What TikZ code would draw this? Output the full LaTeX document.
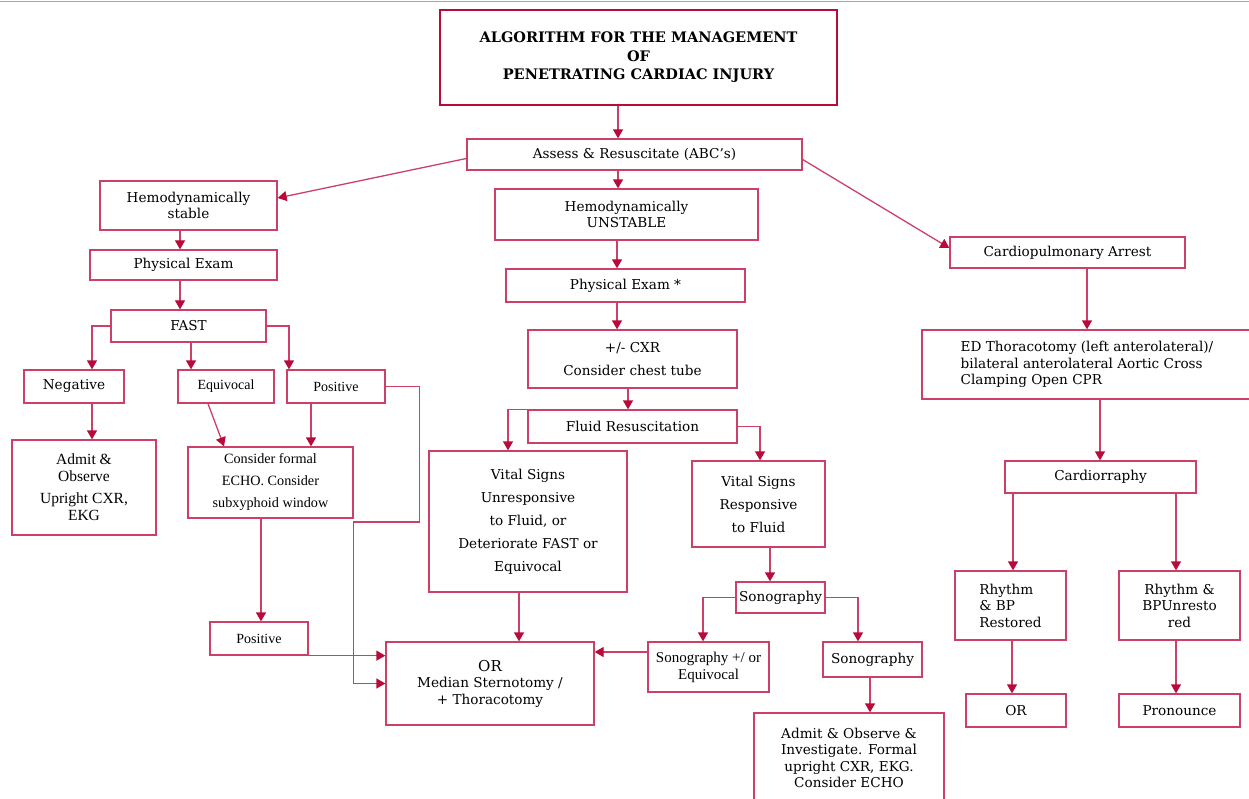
\documentclass[tikz,border=0pt]{standalone}
\usepackage{fontspec}
\setmainfont{DejaVu Serif}
\newfontfamily\timesfont{Liberation Serif}
\usetikzlibrary{arrows.meta}
\definecolor{boxred}{RGB}{204,64,104}
\definecolor{tipred}{RGB}{185,10,60}
\tikzset{
  box/.style={draw=boxred, line width=1.3pt, inner sep=0pt, align=center,
    font=\fontsize{13.6}{16.5}\selectfont},
  wh/.style 2 args={minimum width=#1pt, minimum height=#2pt},
  times/.style={font=\timesfont\fontsize{14}{17}\selectfont},
  link/.style={draw=boxred, line width=1.3pt,
    -{Triangle[length=9pt,width=10pt,color=tipred]}},
}
\begin{document}
\begin{tikzpicture}[x=1pt,y=-1pt]
    \useasboundingbox (0,0) rectangle (1249,799);
    \draw[gray!70, line width=1pt] (0,2) -- (1249,2);

    % top
    \node[box, draw=tipred, line width=2pt, wh={397}{95},
      font=\bfseries\fontsize{14.5}{18.5}\selectfont] (title) at (638.5,57.5)
      {ALGORITHM FOR THE MANAGEMENT\\OF\\PENETRATING CARDIAC INJURY};
    \node[box, wh={335}{31}] (assess) at (634.5,154.5) {Assess \& Resuscitate (ABC's)};

    % stable branch
    \node[box, wh={177}{49}] (stable) at (188.5,205.5) {Hemodynamically\\stable};
    \node[box, wh={187}{30}] (pexL) at (183.5,265) {Physical Exam};
    \node[box, wh={155}{32}] (fast) at (188.5,326) {FAST};
    \node[box, wh={100}{33}] (neg) at (74,386.5) {Negative};
    \node[box, times, wh={96}{33}] (equi) at (226,386.5) {Equivocal};
    \node[box, times, wh={98}{33}] (posL) at (336,386.5) {Positive};
    \node[box, wh={144}{95}, font=\timesfont\fontsize{15.5}{17}\selectfont] (admitL)
      at (84,487.5) {Admit \&\\Observe\\[5pt]Upright CXR,\\EKG};
    \node[box, times, wh={165}{71}, font=\timesfont\fontsize{14.2}{22}\selectfont]
      (echo) at (270.5,482.5) {Consider formal\\ECHO. Consider\\subxyphoid window};
    \node[box, times, wh={98}{33}] (posB) at (259,638.5) {Positive};
    \node[box, wh={208}{83}] (orM) at (490,683.5)
      {\fontsize{15}{18}\selectfont OR\\Median Sternotomy /\\+ Thoracotomy};

    % unstable branch
    \node[box, wh={263}{51}] (unstable) at (626.5,214.5) {Hemodynamically\\UNSTABLE};
    \node[box, wh={239}{33}] (pexM) at (625.5,285.5) {Physical Exam *};
    \node[box, wh={209}{58}, font=\fontsize{13.6}{23}\selectfont] (cxr) at (632.5,359)
      {+/- CXR\\Consider chest tube};
    \node[box, wh={209}{33}] (fluid) at (632.5,426.5) {Fluid Resuscitation};
    \node[box, wh={198}{141}, font=\fontsize{13.6}{23}\selectfont] (unresp) at (528,521.5)
      {Vital Signs\\Unresponsive\\to Fluid, or\\Deteriorate FAST or\\Equivocal};
    \node[box, wh={133}{86}, font=\fontsize{13.6}{23}\selectfont] (resp) at (758.5,504)
      {Vital Signs\\Responsive\\to Fluid};
    \node[box, wh={89}{31}] (sonoM) at (780.5,597.5) {Sonography};
    \node[box, wh={121}{50}, font=\timesfont\fontsize{15}{17}\selectfont] (sonoEq)
      at (708.5,667) {Sonography +/ or\\Equivocal};
    \node[box, wh={99}{35}] (sonoR) at (872.5,659.5) {Sonography};
    \node[box, wh={190}{90}] (admitR) at (849,758)
      {Admit \& Observe \&\\Investigate. Formal\\upright CXR, EKG.\\Consider ECHO};

    % arrest branch
    \node[box, wh={235}{31}] (arrest) at (1067.5,252.5) {Cardiopulmonary Arrest};
    \node[box, wh={330}{69}, align=left] (edt) at (1087,364.5)
      {ED Thoracotomy (left anterolateral)/\\bilateral anterolateral Aortic Cross\\Clamping Open CPR};
    \node[box, wh={191}{32}] (cardio) at (1100.5,477) {Cardiorraphy};
    \node[box, wh={111}{69}, align=left] (rhyR) at (1010.5,605.5) {Rhythm\\\& BP\\Restored};
    \node[box, wh={121}{69}] (rhyU) at (1179.5,605.5) {Rhythm \&\\BPUnresto\\red};
    \node[box, wh={100}{33}] (orR) at (1016,710.5) {OR};
    \node[box, wh={121}{33}] (pron) at (1179.5,710.5) {Pronounce};

    % connectors
    \draw[link] (title.south -| 618,0) -- (assess.north -| 618,0);
    \draw[link] ([yshift=-4pt]assess.west) -- ([yshift=7.5pt]stable.east);
    \draw[link] (assess.south -| 618,0) -- (unstable.north -| 618,0);
    \draw[link] ([yshift=-5pt]assess.east) -- ([yshift=4.5pt]arrest.west);

    \draw[link] (stable.south -| 180,0) -- (pexL.north -| 180,0);
    \draw[link] (pexL.south -| 180,0) -- (fast.north -| 180,0);
    \draw[link] (fast.west) -| (neg.north -| 92,0);
    \draw[link] (fast.south -| 191,0) -- (equi.north -| 191,0);
    \draw[link] (fast.east) -| (posL.north -| 289,0);
    \draw[link] (neg.south -| 92,0) -- (admitL.north -| 92,0);
    \draw[link] (equi.south -| 208,0) -- (echo.north -| 224,0);
    \draw[link] (posL.south -| 311,0) -- (echo.north -| 311,0);
    \draw[link] (posL.east) -- ++(34,0) -- ++(0,135.5) -- ++(-66,0) |- (orM.west);
    \draw[link] (echo.south -| 261,0) -- (posB.north -| 261,0);
    \draw[link] (posB.south east) -- (orM.west |- posB.south);

    \draw[link] (unstable.south -| 617,0) -- (pexM.north -| 617,0);
    \draw[link] (pexM.south -| 617,0) -- (cxr.north -| 617,0);
    \draw[link] (cxr.south -| 628,0) -- (fluid.north -| 628,0);
    \draw[link] (fluid.north west) -| (unresp.north -| 508,0);
    \draw[link] (fluid.east) -| (resp.north -| 760,0);
    \draw[link] (unresp.south -| 519,0) -- (orM.north -| 519,0);
    \draw[link] (resp.south -| 770,0) -- (sonoM.north -| 770,0);
    \draw[link] (sonoM.west) -| (sonoEq.north -| 703,0);
    \draw[link] (sonoM.east) -| (sonoR.north -| 858,0);
    \draw[link] ([yshift=15pt]sonoEq.west) -- ([yshift=31.5pt]orM.east);
    \draw[link] (sonoR.south -| 870,0) -- (admitR.north -| 870,0);

    \draw[link] (arrest.south -| 1087,0) -- (edt.north -| 1087,0);
    \draw[link] (edt.south -| 1100,0) -- (cardio.north -| 1100,0);
    \draw[link] (cardio.south -| 1013,0) -- (rhyR.north -| 1013,0);
    \draw[link] (cardio.south -| 1176,0) -- (rhyU.north -| 1176,0);
    \draw[link] (rhyR.south -| 1012,0) -- (orR.north -| 1012,0);
    \draw[link] (rhyU.south -| 1176,0) -- (pron.north -| 1176,0);
\end{tikzpicture}
\end{document}
